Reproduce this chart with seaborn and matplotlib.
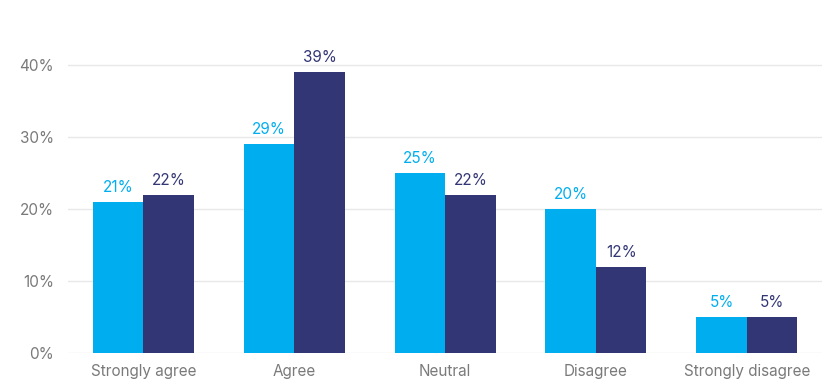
import pandas as pd
import matplotlib.pyplot as plt
import seaborn as sns

categories = ["Strongly agree", "Agree", "Neutral", "Disagree", "Strongly disagree"]
series_a = [21, 29, 25, 20, 5]
series_b = [22, 39, 22, 12, 5]
series_names = ["Group A", "Group B"]
colors = ["#00AEEF", "#333675"]

df = pd.DataFrame({
    "category": categories * 2,
    "value": series_a + series_b,
    "group": [series_names[0]] * len(categories) + [series_names[1]] * len(categories),
})

sns.set_style("white")
plt.rcParams["font.family"] = ["Inter", "DejaVu Sans"]

fig = plt.figure(figsize=(8.38, 3.9), dpi=100)
ax = fig.add_axes([0.0811, 0.0949, 0.9, 0.8308])

sns.barplot(data=df, x="category", y="value", hue="group", order=categories,
            hue_order=series_names, palette=colors, width=0.67, gap=0,
            saturation=1, linewidth=0, legend=False, ax=ax, zorder=3)

for container, col in zip(ax.containers, colors):
    ax.bar_label(container, labels=[f"{v:.0f}%" for v in container.datavalues],
                 padding=5, color=col, fontsize=11)

ax.set_xlim(-0.5, 4.5)
ax.set_ylim(0, 45)
ax.set_yticks([0, 10, 20, 30, 40])
ax.set_yticklabels([f"{t}%" for t in [0, 10, 20, 30, 40]])
ax.yaxis.grid(True, color="#e8e8e8", linewidth=1, zorder=0)
ax.set_axisbelow(True)
for s in ax.spines.values():
    s.set_visible(False)
ax.tick_params(axis="both", length=0, labelsize=11, colors="#7a7a7a", pad=10)
ax.tick_params(axis="x", pad=8)
ax.set_xlabel("")
ax.set_ylabel("")

plt.savefig("out.png", dpi=100)
